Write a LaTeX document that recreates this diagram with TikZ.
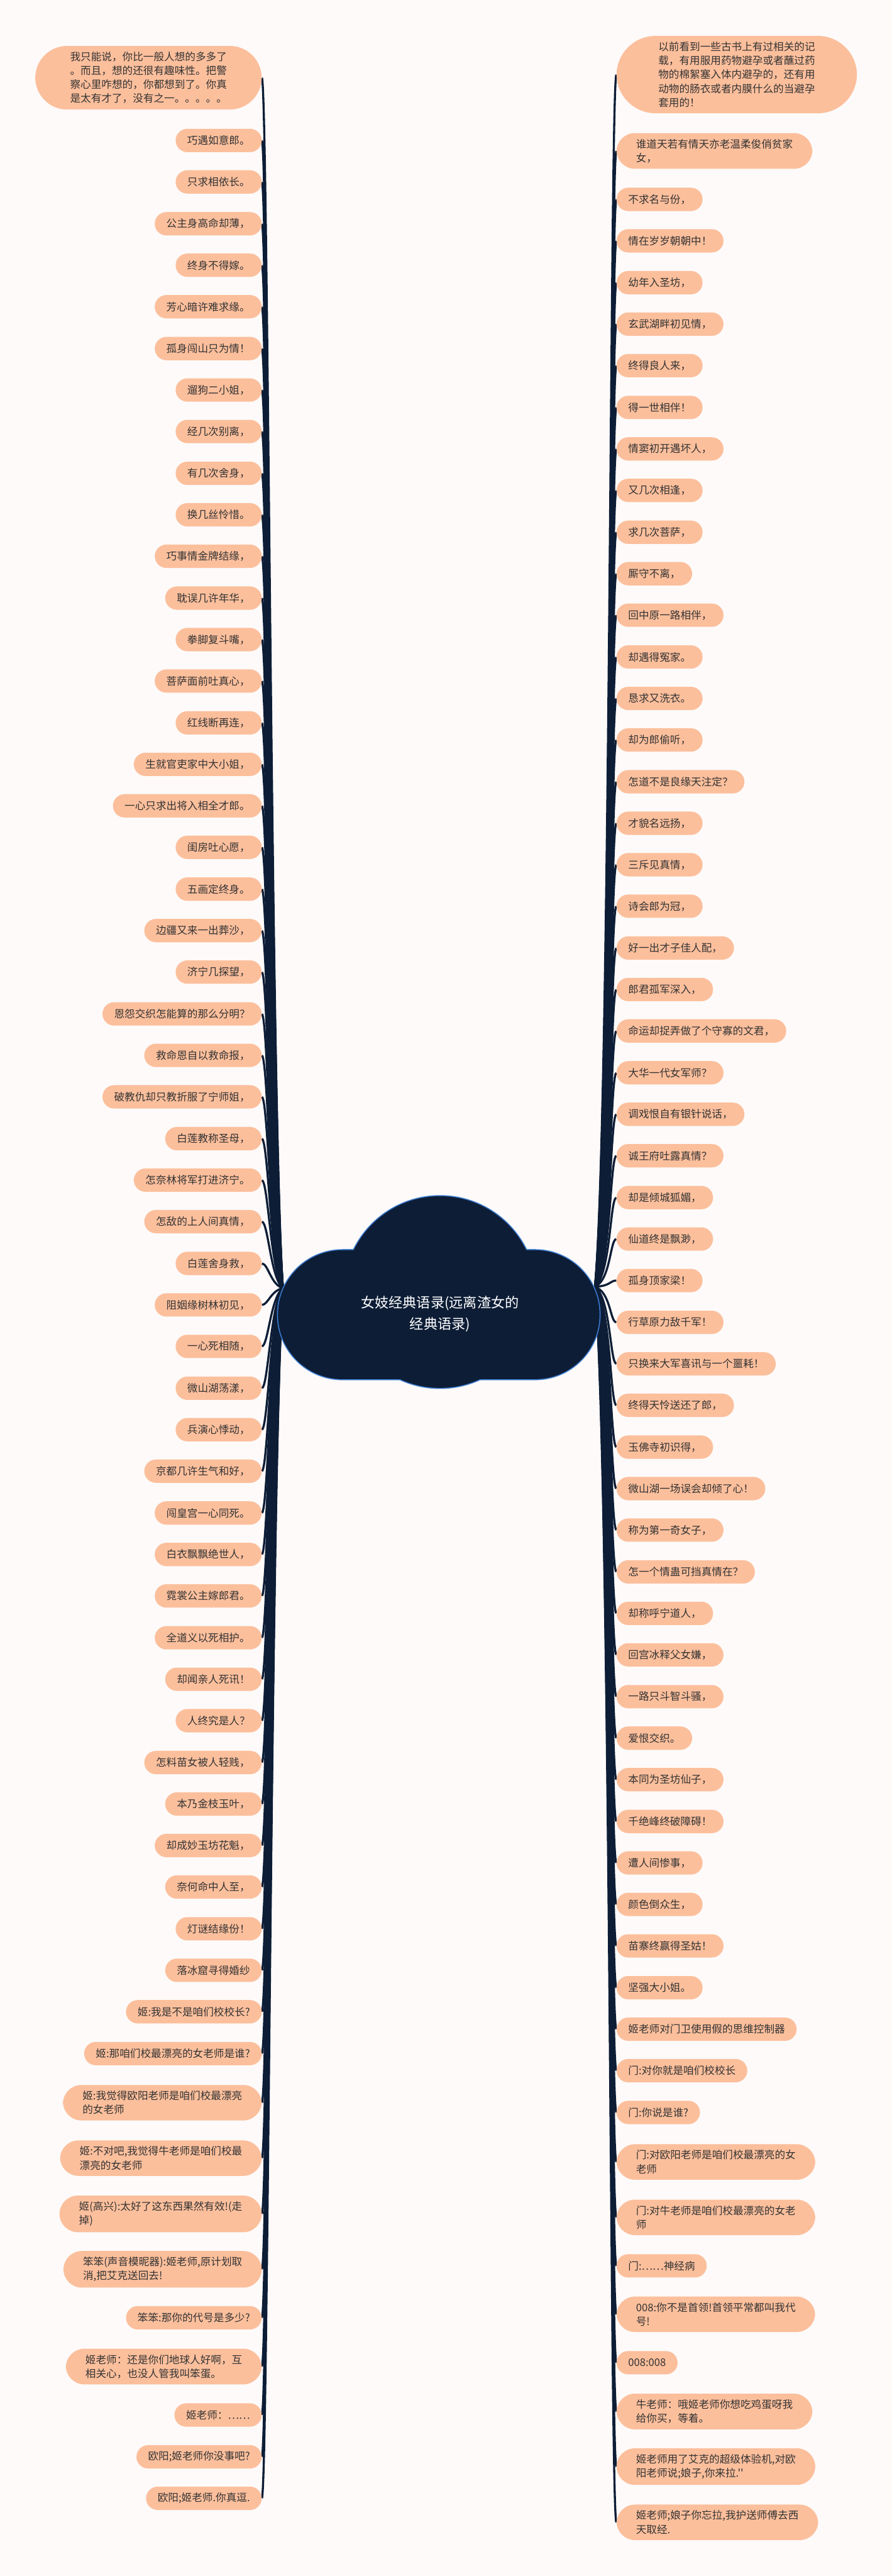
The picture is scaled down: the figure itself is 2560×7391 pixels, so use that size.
\documentclass[tikz,border=0pt]{standalone}
\usepackage{fontspec}
\newfontfamily\cjk{Noto Sans CJK SC}
\usetikzlibrary{calc}
\pgfdeclarelayer{bg}
\pgfsetlayers{bg,main}
\definecolor{peach}{HTML}{FCBF9C}
\definecolor{navy}{HTML}{0D1D36}
\definecolor{rim}{HTML}{3C7BD0}
\definecolor{paper}{HTML}{FDFAF9}
\definecolor{ink}{HTML}{333333}
\tikzset{
    leaf/.style ={
        shape=rectangle,
        rounded corners=8.375pt,
        fill=peach,
        text=ink,
        font=\cjk\fontsize{7.5}{10}\selectfont,
        align=left,
        inner xsep=8.375pt,
        inner ysep=4.25pt,
        minimum height=16.75pt
    },
    leafL/.style ={leaf, anchor=east},
    leafR/.style ={leaf, anchor=west},
    tall2/.style ={rounded corners=13.25pt, inner xsep=14pt},
    tall4/.style ={rounded corners=22.9pt, inner xsep=25pt},
    tall5/.style ={rounded corners=28pt, inner xsep=30pt},
    hub/.style ={
        text=white,
        font=\cjk\fontsize{10}{15.5}\selectfont,
        align=center
    },
    linkL/.style ={
        draw=navy, line width=1.5pt,
        to path={.. controls ($(\tikztostart)!0.15!(\tikztostart |- \tikztotarget)+(-35,0)$)
            and ($(\tikztotarget)!0.02!(\tikztotarget |- \tikztostart)+(18,0)$) .. (\tikztotarget)}
    },
    linkR/.style ={
        draw=navy, line width=1.5pt,
        to path={.. controls ($(\tikztostart)!0.15!(\tikztostart |- \tikztotarget)+(45,0)$)
            and ($(\tikztotarget)!0.02!(\tikztotarget |- \tikztostart)+(-18,0)$) .. (\tikztotarget)}
    }
}

\begin{document}
\begin{tikzpicture}[x=0.25pt,y=-0.25pt]
    \useasboundingbox (0,0) rectangle (2560,7391);

    % cloud
    \fill[rim, rounded corners=47pt] (795,3584) rectangle (1724,3960);
    \fill[rim] (1263,3707) circle (69.5pt);
    \fill[navy, rounded corners=46.25pt] (798,3587) rectangle (1721,3957);
    \fill[navy] (1263,3707) circle (68.75pt);
    \node[hub] (hub) at (1263,3770) {女妓经典语录(远离渣女的\\经典语录)};
    \coordinate (rootL) at (812,3696);
    \coordinate (rootR) at (1708,3692);

    % left side
    \node[leafL, tall4] (l0) at (752,223) {我只能说，你比一般人想的多多了\\。而且，想的还很有趣味性。把警\\察心里咋想的，你都想到了。你真\\是太有才了，没有之一。。。。。};
    \node[leafL] (l1) at (752,403) {巧遇如意郎。};
    \node[leafL] (l2) at (752,522) {只求相依长。};
    \node[leafL] (l3) at (752,642) {公主身高命却薄，};
    \node[leafL] (l4) at (752,761) {终身不得嫁。};
    \node[leafL] (l5) at (752,880) {芳心暗许难求缘。};
    \node[leafL] (l6) at (752,1000) {孤身闯山只为情！};
    \node[leafL] (l7) at (752,1119) {遛狗二小姐，};
    \node[leafL] (l8) at (752,1238) {经几次别离，};
    \node[leafL] (l9) at (752,1358) {有几次舍身，};
    \node[leafL] (l10) at (752,1477) {换几丝怜惜。};
    \node[leafL] (l11) at (752,1596) {巧事情金牌结缘，};
    \node[leafL] (l12) at (752,1716) {耽误几许年华，};
    \node[leafL] (l13) at (752,1835) {拳脚复斗嘴，};
    \node[leafL] (l14) at (752,1954) {菩萨面前吐真心，};
    \node[leafL] (l15) at (752,2074) {红线断再连，};
    \node[leafL] (l16) at (752,2193) {生就官吏家中大小姐，};
    \node[leafL] (l17) at (752,2312) {一心只求出将入相全才郎。};
    \node[leafL] (l18) at (752,2431) {闺房吐心愿，};
    \node[leafL] (l19) at (752,2551) {五画定终身。};
    \node[leafL] (l20) at (752,2670) {边疆又来一出葬沙，};
    \node[leafL] (l21) at (752,2789) {济宁几探望，};
    \node[leafL] (l22) at (752,2909) {恩怨交织怎能算的那么分明？};
    \node[leafL] (l23) at (752,3028) {救命恩自以救命报，};
    \node[leafL] (l24) at (752,3147) {破教仇却只教折服了宁师姐，};
    \node[leafL] (l25) at (752,3267) {白莲教称圣母，};
    \node[leafL] (l26) at (752,3386) {怎奈林将军打进济宁。};
    \node[leafL] (l27) at (752,3505) {怎敌的上人间真情，};
    \node[leafL] (l28) at (752,3625) {白莲舍身救，};
    \node[leafL] (l29) at (752,3744) {阻姻缘树林初见，};
    \node[leafL] (l30) at (752,3863) {一心死相随，};
    \node[leafL] (l31) at (752,3983) {微山湖荡漾，};
    \node[leafL] (l32) at (752,4102) {兵演心悸动，};
    \node[leafL] (l33) at (752,4221) {京都几许生气和好，};
    \node[leafL] (l34) at (752,4341) {闯皇宫一心同死。};
    \node[leafL] (l35) at (752,4460) {白衣飘飘绝世人，};
    \node[leafL] (l36) at (752,4579) {霓裳公主嫁郎君。};
    \node[leafL] (l37) at (752,4699) {全道义以死相护。};
    \node[leafL] (l38) at (752,4818) {却闻亲人死讯！};
    \node[leafL] (l39) at (752,4937) {人终究是人？};
    \node[leafL] (l40) at (752,5057) {怎料苗女被人轻贱，};
    \node[leafL] (l41) at (752,5176) {本乃金枝玉叶，};
    \node[leafL] (l42) at (752,5295) {却成妙玉坊花魁，};
    \node[leafL] (l43) at (752,5414) {奈何命中人至，};
    \node[leafL] (l44) at (752,5534) {灯谜结缘份！};
    \node[leafL] (l45) at (752,5653) {落冰窟寻得婚纱};
    \node[leafL] (l46) at (752,5772) {姬:我是不是咱们校校长?};
    \node[leafL] (l47) at (752,5892) {姬:那咱们校最漂亮的女老师是谁?};
    \node[leafL, tall2] (l48) at (752,6033) {姬:我觉得欧阳老师是咱们校最漂亮\\的女老师};
    \node[leafL, tall2] (l49) at (752,6192) {姬:不对吧,我觉得牛老师是咱们校最\\漂亮的女老师};
    \node[leafL, tall2] (l50) at (752,6352) {姬(高兴):太好了这东西果然有效!(走\\掉)};
    \node[leafL, tall2] (l51) at (752,6511) {笨笨(声音模昵器):姬老师,原计划取\\消,把艾克送回去!};
    \node[leafL] (l52) at (752,6650) {笨笨:那你的代号是多少?};
    \node[leafL, tall2] (l53) at (752,6790) {姬老师：还是你们地球人好啊，互\\相关心，也没人管我叫笨蛋。};
    \node[leafL] (l54) at (752,6929) {姬老师：……};
    \node[leafL] (l55) at (752,7049) {欧阳;姬老师你没事吧?};
    \node[leafL] (l56) at (752,7168) {欧阳;姬老师.你真逗.};

    % right side
    \node[leafR, tall5] (r0) at (1769,214) {以前看到一些古书上有过相关的记\\载，有用服用药物避孕或者蘸过药\\物的棉絮塞入体内避孕的，还有用\\动物的肠衣或者内膜什么的当避孕\\套用的！};
    \node[leafR, tall2] (r1) at (1769,433) {谁道天若有情天亦老温柔俊俏贫家\\女，};
    \node[leafR] (r2) at (1769,572) {不求名与份，};
    \node[leafR] (r3) at (1769,691) {情在岁岁朝朝中！};
    \node[leafR] (r4) at (1769,811) {幼年入圣坊，};
    \node[leafR] (r5) at (1769,930) {玄武湖畔初见情，};
    \node[leafR] (r6) at (1769,1049) {终得良人来，};
    \node[leafR] (r7) at (1769,1169) {得一世相伴！};
    \node[leafR] (r8) at (1769,1288) {情窦初开遇坏人，};
    \node[leafR] (r9) at (1769,1407) {又几次相逢，};
    \node[leafR] (r10) at (1769,1527) {求几次菩萨，};
    \node[leafR] (r11) at (1769,1646) {厮守不离，};
    \node[leafR] (r12) at (1769,1765) {回中原一路相伴，};
    \node[leafR] (r13) at (1769,1885) {却遇得冤家。};
    \node[leafR] (r14) at (1769,2004) {恳求又洗衣。};
    \node[leafR] (r15) at (1769,2123) {却为郎偷听，};
    \node[leafR] (r16) at (1769,2243) {怎道不是良缘天注定？};
    \node[leafR] (r17) at (1769,2362) {才貌名远扬，};
    \node[leafR] (r18) at (1769,2481) {三斥见真情，};
    \node[leafR] (r19) at (1769,2600) {诗会郎为冠，};
    \node[leafR] (r20) at (1769,2720) {好一出才子佳人配，};
    \node[leafR] (r21) at (1769,2839) {郎君孤军深入，};
    \node[leafR] (r22) at (1769,2958) {命运却捉弄做了个守寡的文君，};
    \node[leafR] (r23) at (1769,3078) {大华一代女军师？};
    \node[leafR] (r24) at (1769,3197) {调戏恨自有银针说话，};
    \node[leafR] (r25) at (1769,3316) {诚王府吐露真情？};
    \node[leafR] (r26) at (1769,3436) {却是倾城狐媚，};
    \node[leafR] (r27) at (1769,3555) {仙道终是飘渺，};
    \node[leafR] (r28) at (1769,3674) {孤身顶家梁！};
    \node[leafR] (r29) at (1769,3794) {行草原力敌千军！};
    \node[leafR] (r30) at (1769,3913) {只换来大军喜讯与一个噩耗！};
    \node[leafR] (r31) at (1769,4032) {终得天怜送还了郎，};
    \node[leafR] (r32) at (1769,4152) {玉佛寺初识得，};
    \node[leafR] (r33) at (1769,4271) {微山湖一场误会却倾了心！};
    \node[leafR] (r34) at (1769,4390) {称为第一奇女子，};
    \node[leafR] (r35) at (1769,4510) {怎一个情蛊可挡真情在？};
    \node[leafR] (r36) at (1769,4629) {却称呼宁道人，};
    \node[leafR] (r37) at (1769,4748) {回宫冰释父女嫌，};
    \node[leafR] (r38) at (1769,4868) {一路只斗智斗骚，};
    \node[leafR] (r39) at (1769,4987) {爱恨交织。};
    \node[leafR] (r40) at (1769,5106) {本同为圣坊仙子，};
    \node[leafR] (r41) at (1769,5226) {千绝峰终破障碍！};
    \node[leafR] (r42) at (1769,5345) {遭人间惨事，};
    \node[leafR] (r43) at (1769,5464) {颜色倒众生，};
    \node[leafR] (r44) at (1769,5583) {苗寨终赢得圣姑！};
    \node[leafR] (r45) at (1769,5703) {坚强大小姐。};
    \node[leafR] (r46) at (1769,5822) {姬老师对门卫使用假的思维控制器};
    \node[leafR] (r47) at (1769,5941) {门:对你就是咱们校校长};
    \node[leafR] (r48) at (1769,6061) {门:你说是谁?};
    \node[leafR, tall2] (r49) at (1769,6203) {门:对欧阳老师是咱们校最漂亮的女\\老师};
    \node[leafR, tall2] (r50) at (1769,6362) {门:对牛老师是咱们校最漂亮的女老\\师};
    \node[leafR] (r51) at (1769,6501) {门:……神经病};
    \node[leafR, tall2] (r52) at (1769,6640) {008:你不是首领!首领平常都叫我代\\号!};
    \node[leafR] (r53) at (1769,6779) {008:008};
    \node[leafR, tall2] (r54) at (1769,6919) {牛老师：哦姬老师你想吃鸡蛋呀我\\给你买，等着。};
    \node[leafR, tall2] (r55) at (1769,7077) {姬老师用了艾克的超级体验机,对欧\\阳老师说;娘子,你来拉.''};
    \node[leafR, tall2] (r56) at (1769,7237) {姬老师;娘子你忘拉,我护送师傅去西\\天取经.};

    \begin{pgfonlayer}{bg}
        \fill[paper] (0,0) rectangle (2560,7391);
        \foreach \i in {0,...,56}
            \draw[linkL] (rootL) to (l\i.east);
        \foreach \i in {0,...,56}
            \draw[linkR] (rootR) to (r\i.west);
    \end{pgfonlayer}
\end{tikzpicture}
\end{document}
